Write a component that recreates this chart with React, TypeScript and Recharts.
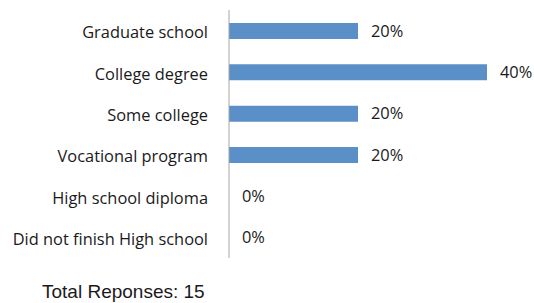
import { BarChart, Bar, XAxis, YAxis, LabelList } from 'recharts';

const categories = [
  'Graduate school',
  'College degree',
  'Some college',
  'Vocational program',
  'High school diploma',
  'Did not finish High school',
];
const shares = [0.2, 0.4, 0.2, 0.2, 0, 0];
const totalResponses = 15;

const data = categories.map((name, i) => ({ name, share: shares[i] }));

const labelFont = '"Open Sans", sans-serif';

export default function App() {
  return (
    <div style={{ position: 'absolute', left: 0, top: 0, width: 534, height: 303, background: '#fff' }}>
      <BarChart
        layout="vertical"
        width={534}
        height={303}
        data={data}
        margin={{ top: 10, right: 47, left: 0, bottom: 45 }}
      >
        <XAxis type="number" domain={[0, 0.4]} hide />
        <YAxis
          type="category"
          dataKey="name"
          width={229}
          tickLine={false}
          tickSize={0}
          tickMargin={21}
          axisLine={{ stroke: '#a6a6a6' }}
          tick={{ fontSize: 16.4, fill: '#1a1a1a', fontFamily: labelFont, dy: 2 }}
          interval={0}
        />
        <Bar dataKey="share" fill="#5b8fc7" barSize={16} minPointSize={0.01} isAnimationActive={false}>
          <LabelList
            dataKey="share"
            position="right"
            offset={13}
            formatter={(v: number) => `${Math.round(v * 100)}%`}
            style={{ fontSize: 16.4, fill: '#1a1a1a', fontFamily: labelFont }}
          />
        </Bar>
      </BarChart>
      <div
        style={{
          position: 'absolute',
          left: 42,
          top: 281,
          fontFamily: '"Liberation Sans", Arial, sans-serif',
          fontSize: 19,
          lineHeight: '22px',
          color: '#1a1a1a',
          whiteSpace: 'nowrap',
        }}
      >
        Total Reponses: {totalResponses}
      </div>
    </div>
  );
}
